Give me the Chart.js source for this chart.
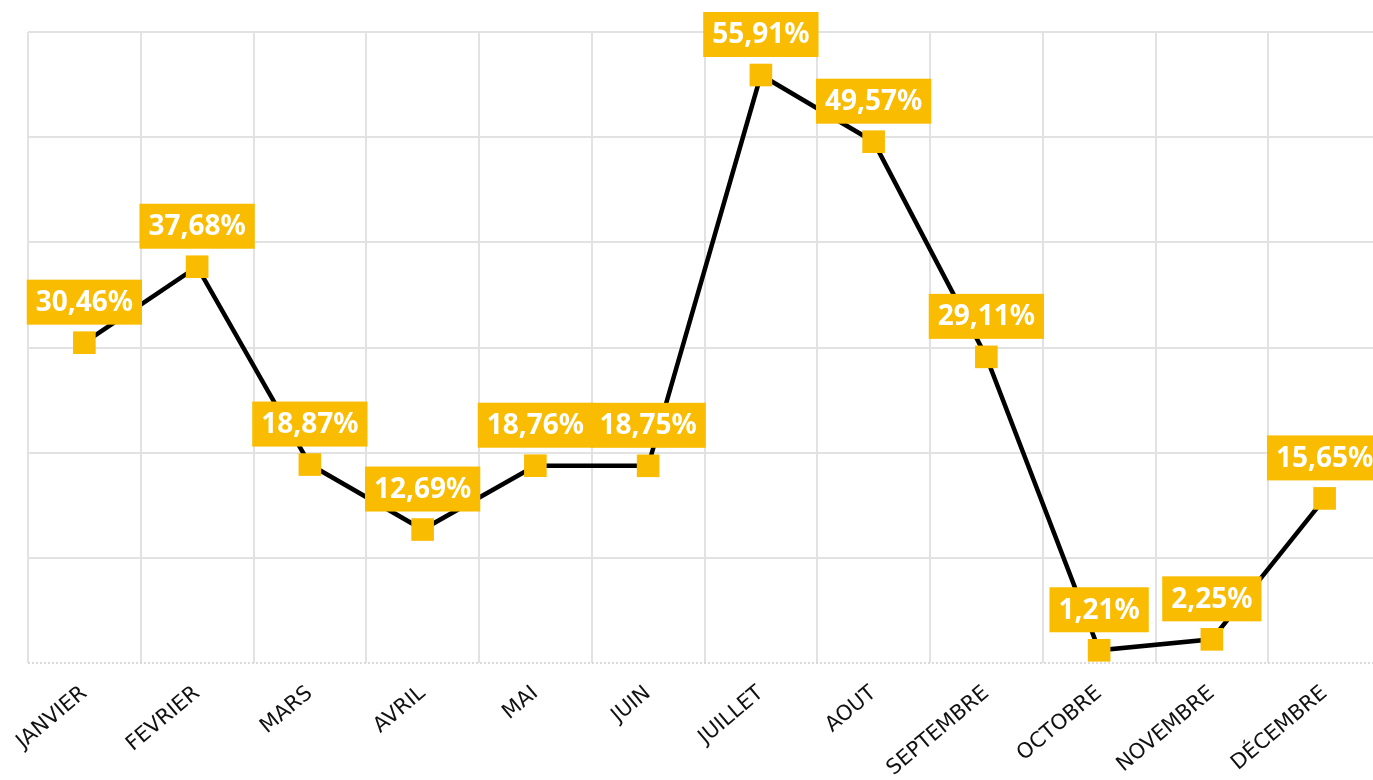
<!DOCTYPE html>
<html><head><meta charset="utf-8">
<script src="https://cdn.jsdelivr.net/npm/chart.js@4"></script>
<style>html,body{margin:0;padding:0;background:#fff;overflow:hidden;}#c{display:block;}</style>
</head><body>
<canvas id="c" width="1397" height="780"></canvas>
<script>
const categories = ['JANVIER','FEVRIER','MARS','AVRIL','MAI','JUIN','JUILLET','AOUT','SEPTEMBRE','OCTOBRE','NOVEMBRE','DÉCEMBRE'];
const values = [30.46, 37.68, 18.87, 12.69, 18.76, 18.75, 55.91, 49.57, 29.11, 1.21, 2.25, 15.65];
const labels = ['30,46%','37,68%','18,87%','12,69%','18,76%','18,75%','55,91%','49,57%','29,11%','1,21%','2,25%','15,65%'];
const YELLOW = '#F9BC00';

const baselinePlugin = {
  id: 'dottedBase',
  beforeDatasetsDraw(chart) {
    const { ctx, chartArea } = chart;
    ctx.save();
    ctx.strokeStyle = '#cfcfcf';
    ctx.lineWidth = 1.5;
    ctx.setLineDash([2, 2]);
    ctx.beginPath();
    ctx.moveTo(chartArea.left, chartArea.bottom);
    ctx.lineTo(chartArea.right, chartArea.bottom);
    ctx.stroke();
    ctx.restore();
  }
};

const labelPlugin = {
  id: 'boxLabels',
  afterDatasetsDraw(chart) {
    const ctx = chart.ctx;
    const meta = chart.getDatasetMeta(0);
    ctx.save();
    ctx.font = 'bold 28px "Noto Sans"';
    ctx.textAlign = 'center';
    ctx.textBaseline = 'middle';
    meta.data.forEach((pt, i) => {
      const t = labels[i];
      const w = ctx.measureText(t).width + 18;
      const h = 45;
      const bottom = pt.y - 18;
      ctx.fillStyle = YELLOW;
      ctx.fillRect(pt.x - w / 2, bottom - h, w, h);
      ctx.fillStyle = '#fff';
      ctx.fillText(t, pt.x, bottom - h / 2 + 1);
    });
    ctx.restore();
  }
};

new Chart(document.getElementById('c'), {
  type: 'line',
  data: {
    labels: categories,
    datasets: [{
      data: values,
      borderColor: '#000',
      borderWidth: 4.5,
      tension: 0,
      pointStyle: 'rect',
      pointRadius: 16,
      pointHoverRadius: 16,
      pointBackgroundColor: YELLOW,
      pointBorderWidth: 0,
      clip: false
    }]
  },
  options: {
    responsive: false,
    animation: false,
    layout: { padding: { left: 28, top: 32, right: 0, bottom: 0 } },
    plugins: { legend: { display: false }, tooltip: { enabled: false } },
    scales: {
      x: {
        offset: true,
        grid: { color: '#e2e2e2', lineWidth: 2, offset: true, drawTicks: false },
        border: { display: false },
        ticks: {
          minRotation: 40, maxRotation: 40, padding: 18,
          color: '#111', font: { family: 'DejaVu Sans', size: 21 }
        },
        afterFit(scale) { scale.height = 117; }
      },
      y: {
        min: 0, max: 60,
        ticks: { display: false, stepSize: 10 },
        grid: { color: ctx => ctx.tick.value === 0 ? 'rgba(0,0,0,0)' : '#e2e2e2', lineWidth: 2, drawTicks: false },
        border: { display: false }
      }
    }
  },
  plugins: [baselinePlugin, labelPlugin]
});
</script>
</body></html>
